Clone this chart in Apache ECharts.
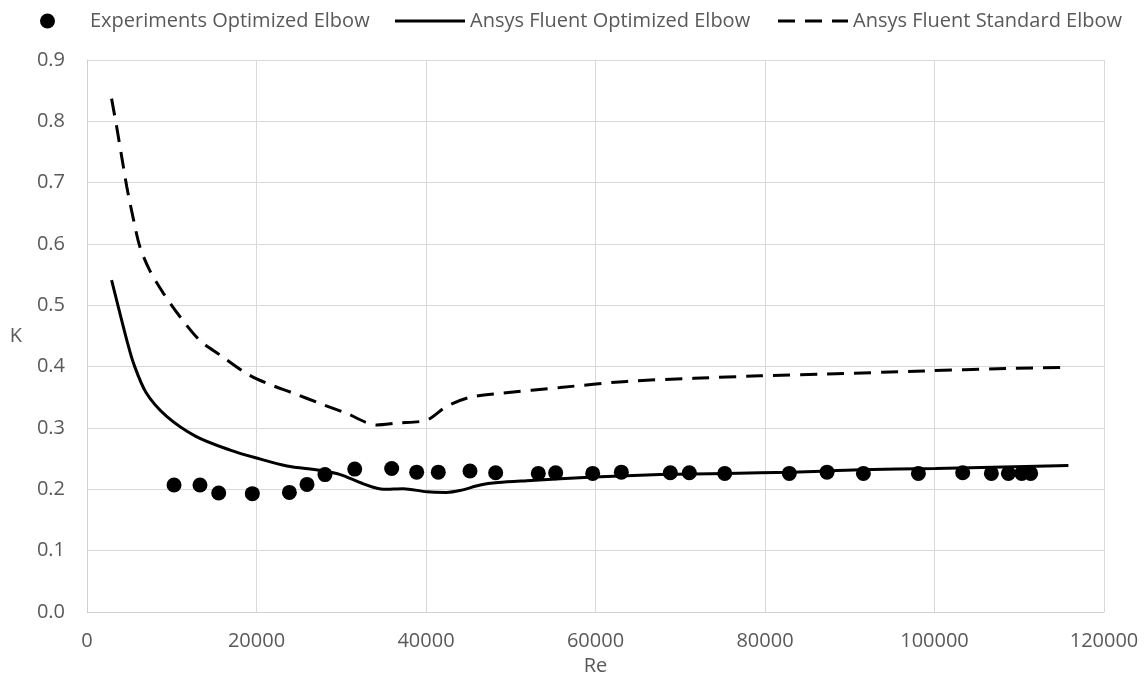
<!DOCTYPE html>
<html>
<head>
<meta charset="utf-8">
<script src="https://cdn.jsdelivr.net/npm/echarts@6/dist/echarts.min.js"></script>
<style>
  html, body { margin: 0; padding: 0; background: #fff; }
  #chart { width: 1144px; height: 694px; }
</style>
</head>
<body>
<div id="chart"></div>
<script>
// Re / K values
const expRe = [10270, 13330, 15540, 19510, 23880, 25960, 28080, 31590, 35950, 38900, 41450, 45190, 48220, 53250, 55300, 59670, 63050, 68830, 71070, 75250, 82870, 87320, 91610, 98100, 103330, 106710, 108720, 110290, 111350]
const expK = [0.207, 0.207, 0.194, 0.193, 0.195, 0.208, 0.224, 0.233, 0.234, 0.228, 0.228, 0.230, 0.227, 0.226, 0.227, 0.226, 0.228, 0.227, 0.227, 0.226, 0.226, 0.228, 0.226, 0.226, 0.227, 0.226, 0.226, 0.226, 0.226]

const optRe = [2900, 3700, 4700, 5500, 7000, 9400, 12900, 16900, 20000, 23600, 27500, 29900, 32600, 35000, 37300, 40100, 42400, 44000, 46400, 48500, 51900, 59800, 67600, 75500, 83300, 91200, 100100, 115800]
const optK = [0.541, 0.497, 0.443, 0.405, 0.357, 0.319, 0.286, 0.264, 0.251, 0.238, 0.231, 0.224, 0.209, 0.200, 0.201, 0.196, 0.195, 0.198, 0.207, 0.211, 0.214, 0.220, 0.224, 0.226, 0.228, 0.232, 0.234, 0.239]

const stdRe = [2900, 3500, 4100, 4700, 5500, 6250, 7400, 9000, 11000, 13300, 15700, 18800, 21200, 24300, 27500, 30600, 34200, 36500, 40100, 42400, 45200, 49100, 55800, 63700, 71600, 79400, 87300, 98700, 108500, 115800]
const stdK = [0.837, 0.791, 0.742, 0.693, 0.639, 0.595, 0.557, 0.520, 0.481, 0.443, 0.419, 0.389, 0.373, 0.357, 0.340, 0.324, 0.305, 0.308, 0.313, 0.335, 0.350, 0.357, 0.366, 0.376, 0.381, 0.385, 0.388, 0.393, 0.397, 0.399]

const names = ['Experiments Optimized Elbow', 'Ansys Fluent Optimized Elbow', 'Ansys Fluent Standard Elbow']

function pairs(xs, ys) {
  return xs.map((x, i) => [x, ys[i]])
}

const font = 'Open Sans'
const grey = '#595959'
const legendText = { color: grey, fontFamily: font, fontSize: 20 }

// legend icons drawn as filled shapes (solid bar / three dashes)
const solidIcon = 'path://M0,0h70v3h-70z'
const dashIcon = 'path://M0,0h17v3h-17z M27,0h17v3h-17z M54,0h16v3h-16z'

var myChart = echarts.init(document.getElementById('chart'))
var option = {
  animation: false,
  grid: { left: 87, right: 40, top: 60, bottom: 82 },
  legend: [
    {
      data: [{ name: names[0], icon: 'circle' }], left: 35, top: 6,
      itemWidth: 15, itemHeight: 15,
      textStyle: Object.assign({ padding: [0, 0, 0, 30] }, legendText)
    },
    {
      data: [{ name: names[1], icon: solidIcon }], left: 390, top: 6,
      itemWidth: 70, itemHeight: 3,
      itemStyle: { color: '#000' },
      textStyle: legendText
    },
    {
      data: [{ name: names[2], icon: dashIcon }], left: 773, top: 6,
      itemWidth: 70, itemHeight: 3,
      itemStyle: { color: '#000' },
      textStyle: legendText
    }
  ],
  xAxis: {
    type: 'value', min: 0, max: 120000, interval: 20000,
    name: 'Re', nameLocation: 'middle', nameGap: 40,
    nameTextStyle: { color: grey, fontFamily: font, fontSize: 20 },
    axisLine: { show: true, lineStyle: { color: '#d0d0d0', width: 1 } },
    axisTick: { show: false },
    axisLabel: { color: grey, fontFamily: font, fontSize: 20, margin: 19, formatter: v => String(v) },
    splitLine: { show: true, lineStyle: { color: '#d9d9d9', width: 1 } }
  },
  yAxis: {
    type: 'value', min: 0, max: 0.9, interval: 0.1,
    name: 'K', nameLocation: 'middle', nameGap: 65, nameRotate: 0,
    nameTextStyle: { color: grey, fontFamily: font, fontSize: 20 },
    axisLine: { show: true, lineStyle: { color: '#d0d0d0', width: 1 } },
    axisTick: { show: false },
    axisLabel: { color: grey, fontFamily: font, fontSize: 20, margin: 22, formatter: v => v.toFixed(1) },
    splitLine: { show: true, lineStyle: { color: '#d9d9d9', width: 1 } }
  },
  series: [
    {
      name: names[0], type: 'scatter', data: pairs(expRe, expK),
      symbol: 'circle', symbolSize: 15,
      itemStyle: { color: '#000', opacity: 1 }
    },
    {
      name: names[1], type: 'line', data: pairs(optRe, optK),
      symbol: 'none', smooth: 0.3,
      lineStyle: { color: '#000', width: 3 },
      itemStyle: { color: '#000' }
    },
    {
      name: names[2], type: 'line', data: pairs(stdRe, stdK),
      symbol: 'none', smooth: 0.3,
      lineStyle: { color: '#000', width: 3, type: [17, 10] },
      itemStyle: { color: '#000' }
    }
  ]
}
myChart.setOption(option)
</script>
</body>
</html>
